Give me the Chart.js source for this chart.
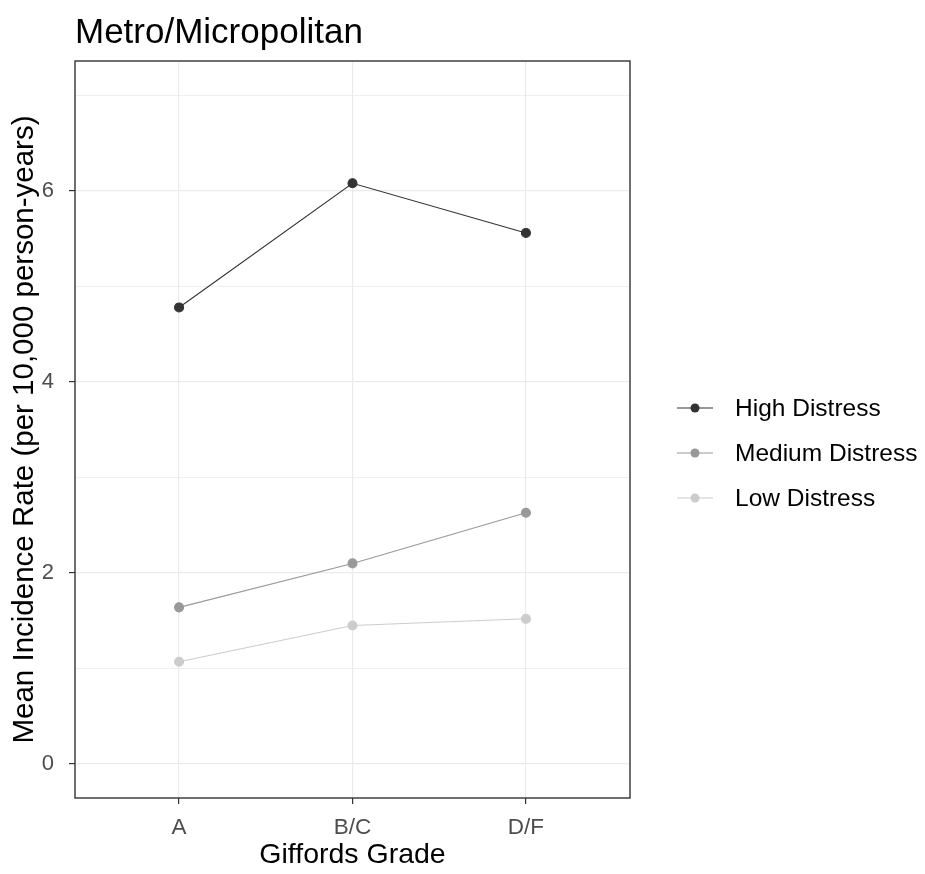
<!DOCTYPE html>
<html>
<head>
<meta charset="utf-8">
<script src="https://cdn.jsdelivr.net/npm/chart.js@4"></script>
<style>
html,body{margin:0;padding:0;background:#fff;}
#wrap{width:925px;height:874px;position:relative;}
</style>
</head>
<body>
<div id="wrap"><canvas id="c" width="925" height="874"></canvas></div>
<script>
const chartTitle = 'Metro/Micropolitan';
const xAxisTitle = 'Giffords Grade';
const yAxisTitle = 'Mean Incidence Rate (per 10,000 person-years)';
const categories = ['A', 'B/C', 'D/F'];
const seriesNames = ['High Distress', 'Medium Distress', 'Low Distress'];
const highDistress = [4.78, 6.08, 5.56];
const mediumDistress = [1.64, 2.10, 2.63];
const lowDistress = [1.07, 1.45, 1.52];
const yTickLabels = [0, 2, 4, 6];
const seriesColors = ['#333333', '#999999', '#cccccc'];

const FONT = '"Liberation Sans", Arial, sans-serif';

const seriesValues = [highDistress, mediumDistress, lowDistress];
const datasets = seriesNames.map((name, i) => ({
  label: name,
  data: seriesValues[i].map((v, j) => ({x: j, y: v})),
  borderColor: seriesColors[i],
  backgroundColor: seriesColors[i],
  pointBackgroundColor: seriesColors[i],
  pointBorderColor: seriesColors[i],
  borderWidth: 1.1,
  pointRadius: 4.5,
  pointHoverRadius: 4.5,
  tension: 0,
  fill: false
}));

const panelPlugin = {
  id: 'panel',
  afterDraw(chart) {
    const {ctx, chartArea: a} = chart;
    ctx.save();
    ctx.strokeStyle = '#333333';
    ctx.lineWidth = 1.4;
    ctx.strokeRect(a.left, a.top, a.right - a.left, a.bottom - a.top);
    // title
    ctx.fillStyle = '#000';
    ctx.font = '35px ' + FONT;
    ctx.textAlign = 'left';
    ctx.textBaseline = 'alphabetic';
    ctx.fillText(chartTitle, a.left, 43);
    // legend
    const cy = 453, gap = 45;
    const x0 = a.right + 47;
    chart.data.datasets.forEach((ds, i) => {
      const y = cy + (i - 1) * gap;
      ctx.strokeStyle = ds.borderColor;
      ctx.lineWidth = 1.2;
      ctx.beginPath();
      ctx.moveTo(x0, y);
      ctx.lineTo(x0 + 36, y);
      ctx.stroke();
      ctx.fillStyle = ds.borderColor;
      ctx.beginPath();
      ctx.arc(x0 + 18, y, 4.5, 0, Math.PI * 2);
      ctx.fill();
      ctx.fillStyle = '#000';
      ctx.font = '24.5px ' + FONT;
      ctx.textBaseline = 'middle';
      ctx.fillText(ds.label, x0 + 58, y + 1);
    });
    ctx.restore();
  }
};

new Chart(document.getElementById('c'), {
  type: 'line',
  data: {datasets},
  plugins: [panelPlugin],
  options: {
    responsive: false,
    animation: false,
    layout: {padding: {top: 61, right: 295, left: 0, bottom: 0}},
    plugins: {legend: {display: false}, tooltip: {enabled: false}, title: {display: false}},
    scales: {
      x: {
        type: 'linear',
        min: -0.6,
        max: 2.6,
        afterBuildTicks: s => { s.ticks = categories.map((c, i) => ({value: i})); },
        afterFit: s => { s.height = 76; },
        ticks: {
          callback: v => categories[v],
          color: '#4d4d4d',
          font: {family: FONT, size: 22.5},
          padding: 10,
          maxRotation: 0,
          autoSkip: false
        },
        grid: {color: '#ebebeb', lineWidth: 1.2, tickColor: '#333333', tickLength: 6, drawTicks: true},
        border: {display: false},
        title: {display: true, text: xAxisTitle, color: '#000', font: {family: FONT, size: 28.5}, padding: {top: 0, bottom: 2}}
      },
      y: {
        type: 'linear',
        min: -0.356,
        max: 7.36,
        afterBuildTicks: s => {
          const t = [];
          for (let v = 0; v <= 7; v++) t.push({value: v});
          s.ticks = t;
        },
        afterFit: s => { s.width = 75; },
        ticks: {
          callback: v => (yTickLabels.includes(v) ? String(v) : ''),
          color: '#4d4d4d',
          font: {family: FONT, size: 22},
          padding: 15,
          autoSkip: false
        },
        grid: {
          color: '#ebebeb',
          lineWidth: ctx => (ctx.tick && yTickLabels.includes(ctx.tick.value) ? 1.2 : 0.8),
          tickColor: ctx => (ctx.tick && yTickLabels.includes(ctx.tick.value) ? '#333333' : 'rgba(0,0,0,0)'),
          tickLength: 6,
          drawTicks: true
        },
        border: {display: false},
        title: {display: true, text: yAxisTitle, color: '#000', font: {family: FONT, size: 29.5}, padding: {top: 7, bottom: 0}}
      }
    }
  }
});
</script>
</body>
</html>
